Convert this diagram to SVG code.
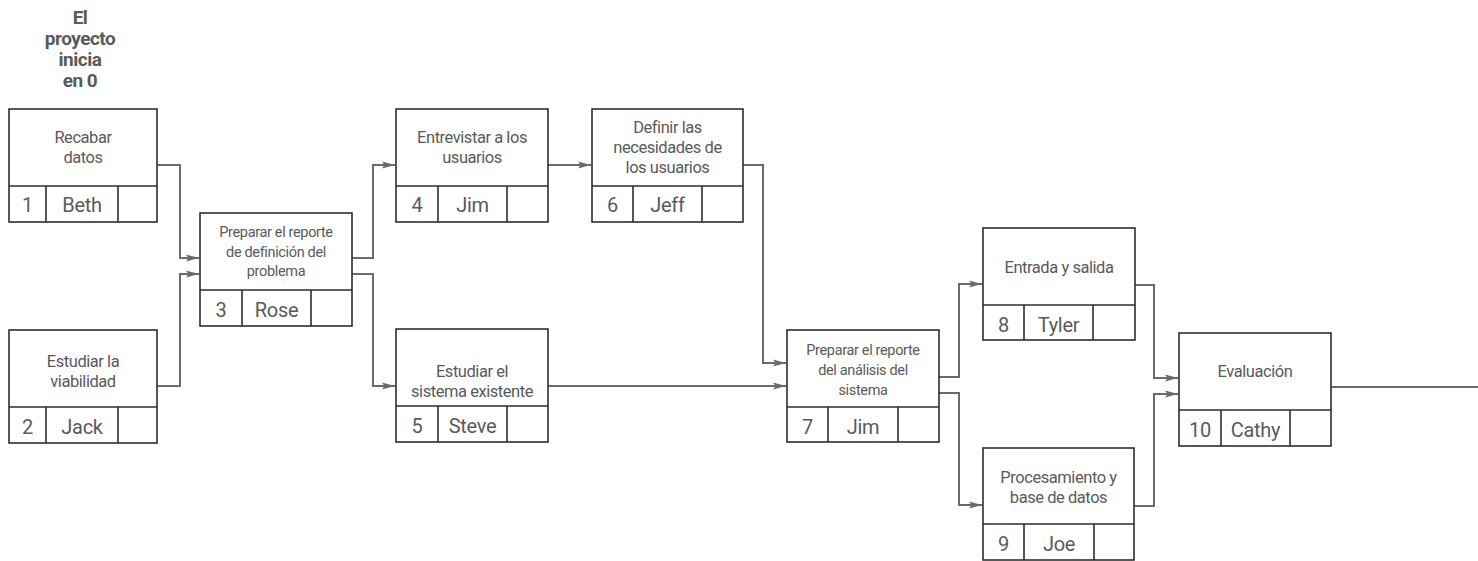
<svg xmlns="http://www.w3.org/2000/svg" width="1478" height="561" viewBox="0 0 1478 561">
<style>
.box{fill:#fff;stroke:#2e2e2e;stroke-width:1.6}
.ln{stroke:#2e2e2e;stroke-width:1.6;fill:none}
.t{font-family:Roboto,"Liberation Sans",sans-serif;font-size:16.5px;fill:#5a5a5a;text-anchor:middle;letter-spacing:-0.45px}
.s{font-family:Roboto,"Liberation Sans",sans-serif;font-size:14.5px;fill:#5a5a5a;text-anchor:middle;letter-spacing:-0.35px}
.b{font-family:Roboto,"Liberation Sans",sans-serif;font-size:20px;fill:#5a5a5a;text-anchor:middle;letter-spacing:-0.3px}
.h{font-family:Roboto,"Liberation Sans",sans-serif;font-size:19px;font-weight:bold;fill:#5a5a5a;text-anchor:middle;letter-spacing:-0.5px}
.c{fill:none;stroke:#6b6b6b;stroke-width:2}
</style>
<defs>
<marker id="ar" markerUnits="userSpaceOnUse" markerWidth="14" markerHeight="10" refX="13" refY="5" orient="auto">
<path d="M0,1.5 L13,5 L0,8.5 L2.5,5 Z" fill="#6b6b6b"/>
</marker>
</defs>
<g id="title">
<text class="h" x="80" y="24">El</text>
<text class="h" x="80" y="45">proyecto</text>
<text class="h" x="80" y="66">inicia</text>
<text class="h" x="80" y="87">en 0</text>
</g>
<g id="connectors">
<polyline class="c" marker-end="url(#ar)" points="157,165 180,165 180,258 199,258"/>
<polyline class="c" marker-end="url(#ar)" points="157,386 180,386 180,274 199,274"/>
<polyline class="c" marker-end="url(#ar)" points="352,258 373,258 373,165 395,165"/>
<polyline class="c" marker-end="url(#ar)" points="352,274 373,274 373,386 395,386"/>
<polyline class="c" marker-end="url(#ar)" points="548,165 591,165"/>
<polyline class="c" marker-end="url(#ar)" points="743,165 763,165 763,363 786,363"/>
<polyline class="c" marker-end="url(#ar)" points="548,386 786,386"/>
<polyline class="c" marker-end="url(#ar)" points="939,377 959,377 959,284 982,284"/>
<polyline class="c" marker-end="url(#ar)" points="939,393 959,393 959,505 982,505"/>
<polyline class="c" marker-end="url(#ar)" points="1135,285 1154,285 1154,378 1178,378"/>
<polyline class="c" marker-end="url(#ar)" points="1134,506 1154,506 1154,394 1178,394"/>
<polyline class="c" points="1331,387 1478,387"/>
</g>
<g id="n1">
<rect class="box" x="9" y="109" width="148" height="113"/>
<path class="ln" d="M9,186H157M46,186V222M118,186V222"/>
<text class="t" x="83" y="143">Recabar</text>
<text class="t" x="83" y="163">datos</text>
<text class="b" x="27.5" y="212">1</text>
<text class="b" x="82" y="212">Beth</text>
</g>
<g id="n2">
<rect class="box" x="9" y="330" width="148" height="113"/>
<path class="ln" d="M9,407H157M46,407V443M118,407V443"/>
<text class="t" x="83" y="367">Estudiar la</text>
<text class="t" x="83" y="387">viabilidad</text>
<text class="b" x="27.5" y="434">2</text>
<text class="b" x="82" y="434">Jack</text>
</g>
<g id="n3">
<rect class="box" x="200" y="213" width="152" height="113"/>
<path class="ln" d="M200,290H352M242,290V326M311,290V326"/>
<text class="s" x="276" y="237">Preparar el reporte</text>
<text class="s" x="276" y="257">de definición del</text>
<text class="s" x="276" y="276">problema</text>
<text class="b" x="221" y="317">3</text>
<text class="b" x="276.5" y="317">Rose</text>
</g>
<g id="n4">
<rect class="box" x="396" y="109" width="152" height="113"/>
<path class="ln" d="M396,186H548M438,186V222M507,186V222"/>
<text class="t" x="472" y="143">Entrevistar a los</text>
<text class="t" x="472" y="163">usuarios</text>
<text class="b" x="417" y="212">4</text>
<text class="b" x="472.5" y="212">Jim</text>
</g>
<g id="n5">
<rect class="box" x="396" y="329" width="152" height="113"/>
<path class="ln" d="M396,406H548M438,406V442M507,406V442"/>
<text class="t" x="472" y="377">Estudiar el</text>
<text class="t" x="472" y="397">sistema existente</text>
<text class="b" x="417" y="433">5</text>
<text class="b" x="472.5" y="433">Steve</text>
</g>
<g id="n6">
<rect class="box" x="592" y="109" width="151" height="113"/>
<path class="ln" d="M592,186H743M633,186V222M702,186V222"/>
<text class="t" x="667.5" y="133">Definir las</text>
<text class="t" x="667.5" y="153">necesidades de</text>
<text class="t" x="667.5" y="173">los usuarios</text>
<text class="b" x="612.5" y="212">6</text>
<text class="b" x="667.5" y="212">Jeff</text>
</g>
<g id="n7">
<rect class="box" x="787" y="330" width="152" height="112"/>
<path class="ln" d="M787,407H939M828,407V442M898,407V442"/>
<text class="s" x="863" y="355">Preparar el reporte</text>
<text class="s" x="863" y="375">del análisis del</text>
<text class="s" x="863" y="395">sistema</text>
<text class="b" x="807.5" y="434">7</text>
<text class="b" x="863" y="434">Jim</text>
</g>
<g id="n8">
<rect class="box" x="983" y="228" width="152" height="112"/>
<path class="ln" d="M983,305H1135M1024,305V340M1093,305V340"/>
<text class="t" x="1059" y="273">Entrada y salida</text>
<text class="b" x="1003.5" y="332">8</text>
<text class="b" x="1058.5" y="332">Tyler</text>
</g>
<g id="n9">
<rect class="box" x="983" y="448" width="151" height="112"/>
<path class="ln" d="M983,524H1134M1024,524V560M1094,524V560"/>
<text class="t" x="1058.5" y="483">Procesamiento y</text>
<text class="t" x="1058.5" y="503">base de datos</text>
<text class="b" x="1003.5" y="551">9</text>
<text class="b" x="1059" y="551">Joe</text>
</g>
<g id="n10">
<rect class="box" x="1179" y="333" width="152" height="113"/>
<path class="ln" d="M1179,410H1331M1221,410V446M1290,410V446"/>
<text class="t" x="1255" y="377">Evaluación</text>
<text class="b" x="1200" y="437">10</text>
<text class="b" x="1255.5" y="437">Cathy</text>
</g>
</svg>
